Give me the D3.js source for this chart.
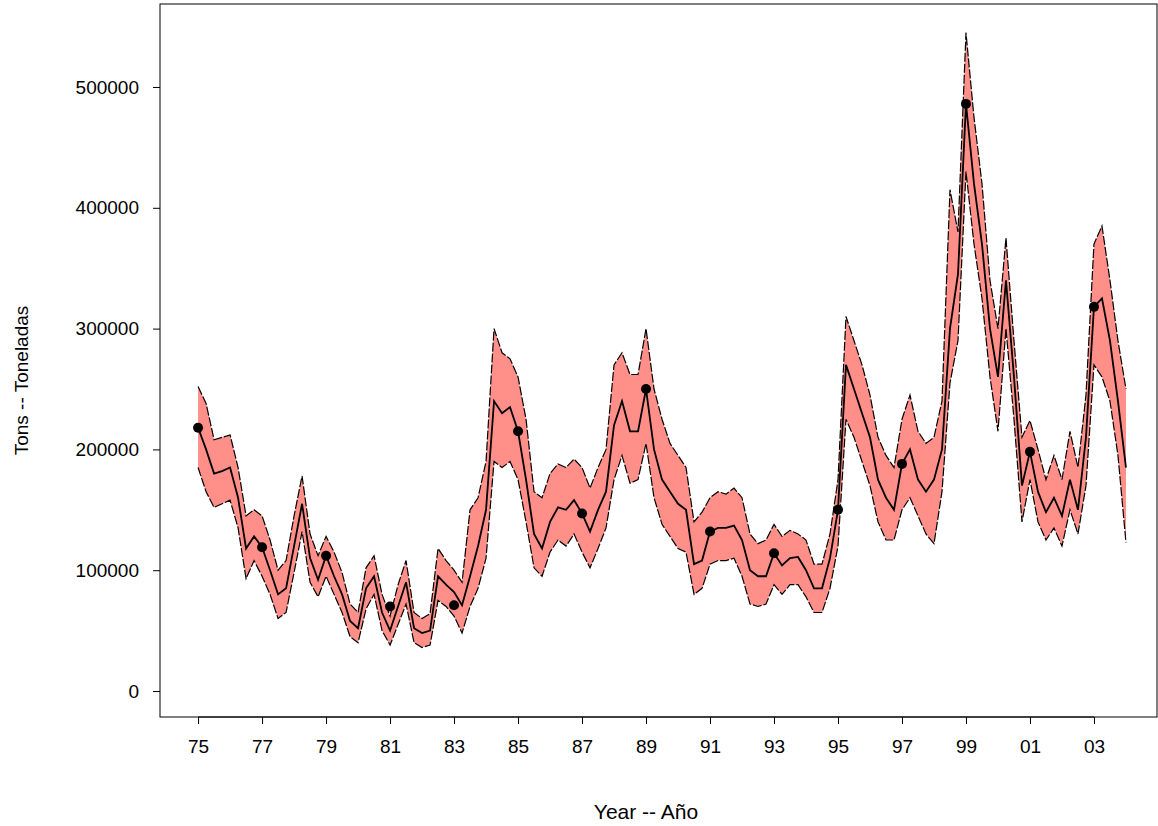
<!DOCTYPE html>
<html><head><meta charset="utf-8">
<script src="https://cdn.jsdelivr.net/npm/d3@7"></script>
<style>body{margin:0;background:#fff}text{font-family:"Liberation Sans",Arial,sans-serif}</style>
</head><body><div id="chart"></div>
<script>
// quarterly values in thousands of tons, 1975.00 .. 2004.00
const startYear = 1975;
const mid = [218,200,180,182, 185,160,118,128, 119,100,80,85, 120,155,110,92, 112,95,80,58,
  52,85,95,65, 50,70,90,52, 48,50,95,88, 82,71,95,120, 150,240,230,235, 215,175,130,118,
  140,152,150,158, 147,132,150,165, 220,240,215,215, 250,200,175,165, 155,150,105,108,
  132,135,135,137, 125,100,95,95, 114,104,110,111, 100,85,85,110, 150,270,250,230,
  210,175,160,150, 188,200,175,165, 175,200,300,345, 486,420,370,300, 260,340,260,170,
  198,165,148,160, 145,175,150,210, 318,325,290,240, 185];
const upper = [252,238,208,210, 212,185,145,150, 145,125,100,108, 145,178,130,112, 128,115,98,72,
  65,102,112,80, 62,88,108,65, 60,64,118,108, 100,90,150,160, 190,300,280,275, 260,225,165,160,
  180,188,185,192, 185,168,185,200, 270,280,262,262, 300,250,225,205, 195,185,140,148,
  160,165,163,168, 160,130,122,125, 138,128,133,130, 125,105,105,130, 175,310,290,270,
  245,210,195,185, 225,245,215,205, 210,240,415,380, 545,475,420,340, 300,375,290,210,
  224,200,175,195, 175,215,185,245, 370,385,340,290, 250];
const lower = [185,165,152,155, 158,135,93,108, 95,80,60,65, 98,132,90,78, 95,80,65,45,
  40,68,80,50, 38,55,72,40, 36,38,75,70, 62,48,70,85, 110,190,185,190, 175,140,102,95,
  115,125,120,130, 115,102,118,135, 175,195,172,175, 205,160,138,128, 118,115,80,85,
  105,108,108,110, 95,72,70,72, 88,80,88,88, 78,65,65,85, 120,225,210,190,
  170,140,125,125, 150,160,145,130, 122,165,255,290, 430,370,325,260, 215,300,225,140,
  175,140,125,135, 120,150,130,170, 270,260,240,195, 123];
const pointYears = [1975,1977,1979,1981,1983,1985,1987,1989,1991,1993,1995,1997,1999,2001,2003];
const pointValues = [218,119,112,70,71,215,147,250,132,114,150,188,486,198,318];
const yTicks = [0,100000,200000,300000,400000,500000];
const xTicks = d3.range(1975, 2004, 2);

const data = mid.map((m, i) => ({ t: startYear + i / 4, mid: m * 1000, hi: upper[i] * 1000, lo: lower[i] * 1000 }));

const width = 1158, height = 826;
const plotLeft = 160, plotRight = 1157, plotTop = 4, plotBottom = 717;

const x = d3.scaleLinear().domain([1973.81, 2004.97]).range([plotLeft, plotRight]);
const y = d3.scaleLinear().domain([-21500, 568700]).range([plotBottom, plotTop]);

const svg = d3.select("#chart").append("svg").attr("width", width).attr("height", height);

svg.append("path").datum(data)
  .attr("fill", "#ff8f88")
  .attr("d", d3.area().x(d => x(d.t)).y0(d => y(d.lo)).y1(d => y(d.hi)));

["hi", "lo"].forEach(k => {
  svg.append("path").datum(data)
    .attr("fill", "none").attr("stroke", "#000").attr("stroke-width", 1.2)
    .attr("stroke-dasharray", "9,2")
    .attr("d", d3.line().x(d => x(d.t)).y(d => y(d[k])));
});

svg.append("path").datum(data)
  .attr("fill", "none").attr("stroke", "#000").attr("stroke-width", 1.8)
  .attr("d", d3.line().x(d => x(d.t)).y(d => y(d.mid)));

svg.selectAll("circle.pt").data(pointYears).join("circle")
  .attr("cx", d => x(d)).attr("cy", (d, i) => y(pointValues[i] * 1000))
  .attr("r", 5).attr("fill", "#000");

svg.append("rect").attr("x", plotLeft).attr("y", plotTop).attr("width", plotRight - plotLeft).attr("height", plotBottom - plotTop)
  .attr("fill", "none").attr("stroke", "#000").attr("stroke-width", 1);

const yAxis = d3.axisLeft(y).tickValues(yTicks).tickSize(7).tickPadding(14).tickFormat(d3.format("d"));
svg.append("g").attr("transform", `translate(${plotLeft},0)`).call(yAxis)
  .call(g => g.select(".domain").remove())
  .call(g => g.selectAll("text").attr("font-size", 19).attr("fill", "#000"));

const xAxis = d3.axisBottom(x).tickValues(xTicks).tickSize(7).tickPadding(16)
  .tickFormat(d => String(d % 100).padStart(2, "0"));
svg.append("g").attr("transform", `translate(0,${plotBottom})`).call(xAxis)
  .call(g => g.select(".domain").attr("d", `M${x(1975)},0H${x(2003)}`))
  .call(g => g.selectAll("text").attr("font-size", 19).attr("fill", "#000"));

svg.append("text").attr("x", x(1989)).attr("y", 819).attr("text-anchor", "middle")
  .attr("font-size", 21).text("Year -- Año");
svg.append("text").attr("transform", `translate(28,${(plotTop + plotBottom) / 2 + 20}) rotate(-90)`)
  .attr("text-anchor", "middle").attr("font-size", 19).text("Tons -- Toneladas");
</script></body></html>
